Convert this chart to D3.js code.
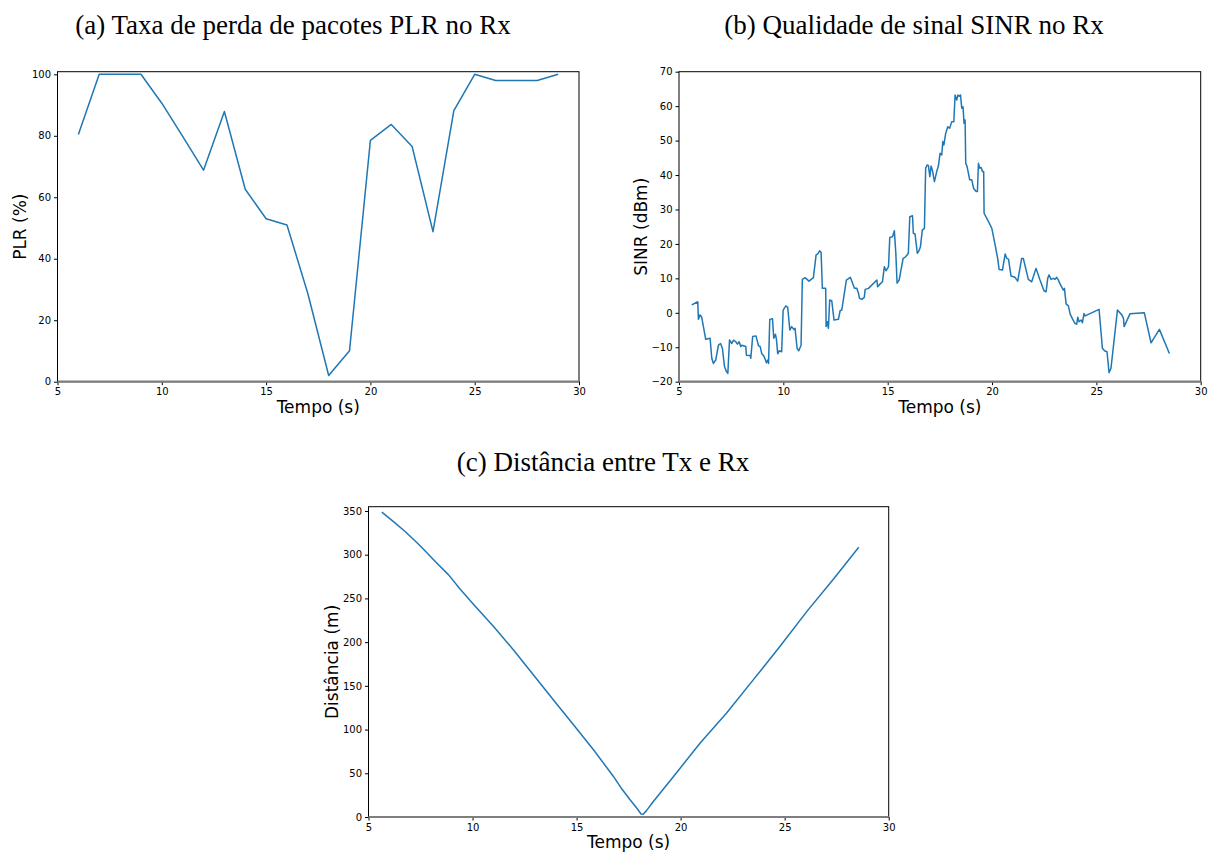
<!DOCTYPE html>
<html>
<head>
<meta charset="utf-8">
<script src="https://cdn.jsdelivr.net/npm/d3@7"></script>
<style>
  body { margin: 0; background: #fff; }
  svg { display: block; }
  .tick text { font-family: "DejaVu Sans", sans-serif; font-size: 10px; fill: #000; }
  .axlabel { font-family: "DejaVu Sans", sans-serif; font-size: 17px; fill: #000; }
  .title { font-family: "Liberation Serif", "DejaVu Serif", serif; font-size: 27px; fill: #000; }
</style>
</head>
<body>
<svg width="1215" height="853"></svg>
<script>
// (a) PLR per second
var plrTime = [6,7,8,9,10,11,12,13,14,15,16,17,18,19,20,21,22,23,24,25,26,27,28,29];
var plrValue = [80.4,100,100,100,90.6,79.8,68.8,87.9,62.6,53.0,51.0,28.7,2.0,10.1,78.5,83.7,76.5,48.8,88.2,100,98,98,98,100];

// (b) SINR trace
var sinrTime = [5.61,5.90,5.93,6.01,6.09,6.28,6.49,6.57,6.65,6.76,6.89,6.99,7.08,7.18,7.26,7.34,7.42,7.53,7.62,7.72,
  7.80,7.88,7.96,8.01,8.20,8.23,8.41,8.44,8.53,8.69,8.81,8.89,8.97,9.06,9.13,9.19,9.25,9.29,9.35,9.48,
  9.54,9.62,9.67,9.73,9.81,9.92,9.99,10.12,10.21,10.31,10.40,10.50,10.56,10.66,10.74,10.85,10.91,11.04,11.23,11.44,
  11.57,11.65,11.74,11.81,11.87,12.03,12.05,12.11,12.16,12.22,12.32,12.43,12.64,12.72,12.80,13.02,13.21,13.41,13.52,13.60,
  13.65,13.76,13.88,13.92,14.08,14.48,14.52,14.64,14.75,14.84,14.92,15.04,15.10,15.23,15.32,15.39,15.45,15.55,15.74,15.83,
  15.93,15.99,16.06,16.19,16.23,16.31,16.42,16.50,16.57,16.66,16.76,16.82,16.89,16.95,17.02,17.08,17.14,17.24,17.35,17.43,
  17.51,17.59,17.64,17.69,17.78,17.88,17.97,18.07,18.17,18.23,18.31,18.36,18.44,18.49,18.55,18.61,18.66,18.71,18.74,18.80,
  18.87,18.93,19.03,19.12,19.24,19.30,19.35,19.41,19.48,19.54,19.60,19.62,19.83,19.99,20.07,20.18,20.27,20.34,20.50,20.63,
  20.71,20.79,20.91,21.10,21.23,21.42,21.50,21.74,21.90,22.11,22.30,22.49,22.59,22.67,22.73,22.83,22.94,23.02,23.10,23.18,
  23.26,23.42,23.47,23.55,23.66,23.74,23.90,23.98,24.06,24.11,24.17,24.27,24.33,24.41,24.46,25.13,25.29,25.39,25.51,25.61,
  25.70,26.01,26.22,26.30,26.33,26.61,27.30,27.62,28.02,28.50];
var sinrValue = [2.3,3.2,-1.9,-0.6,-1.3,-7.7,-7.4,-13.2,-14.7,-13.7,-9.4,-8.9,-10.3,-15.6,-16.9,-17.6,-7.9,-8.9,-7.9,-8.4,
  -9.1,-8.4,-9.8,-9.4,-9.8,-12.3,-12.4,-13.2,-6.9,-6.7,-9.6,-9.8,-11.9,-12.5,-13.5,-14.5,-13.7,-14.7,-1.9,-1.7,
  -7.4,-6.2,-7.7,-11.9,-11.0,-11.3,0.8,2.0,1.6,-5.0,-4.0,-4.8,-4.5,-10.3,-11.0,-9.4,9.7,10.2,9.2,10.2,
  16.8,17.1,18.0,17.5,7.1,7.1,-4.0,-2.6,-4.5,3.7,3.5,-2.1,-1.9,0.6,0.8,9.5,10.3,7.1,7.1,5.7,
  4.2,3.9,4.5,6.8,7.1,9.5,7.6,8.4,9.0,13.4,12.2,13.4,21.9,22.1,23.8,17.3,8.6,9.5,15.8,16.1,
  16.8,17.3,27.9,28.2,23.1,22.9,17.3,18.0,19.2,24.0,24.5,42.0,42.9,42.8,39.5,42.6,41.5,38.1,41.0,42.6,
  46.3,45.8,49.7,48.7,52.1,54.0,53.6,55.5,55.5,63.2,61.8,63.2,62.9,63.2,59.4,59.8,55.0,56.0,43.4,42.6,
  40.5,38.6,38.6,36.1,35.2,35.2,43.4,42.0,42.2,41.0,41.0,28.9,26.5,24.5,22.1,18.7,15.8,12.6,12.4,17.1,
  15.8,15.6,10.7,10.3,9.2,15.8,15.8,9.7,9.0,12.9,9.5,6.4,6.1,10.0,11.0,9.7,10.0,9.7,10.3,9.5,
  8.4,6.6,7.1,2.6,2.0,-0.3,-2.3,-3.1,-3.3,-1.3,-2.6,-2.1,-2.9,-0.2,-0.9,1.0,-10.3,-11.0,-11.3,-17.4,
  -16.1,0.8,-0.6,-1.6,-4.0,-0.3,0.0,-8.7,-4.8,-11.8];

// (c) distance Tx-Rx
var distTime = [5.64,6.20,6.76,7.32,7.55,8.29,8.85,9.41,10.00,11.01,11.97,12.93,13.89,14.86,15.82,16.78,17.13,17.58,17.90,18.10,
  18.20,18.35,18.68,19.65,20.93,22.20,23.49,24.77,26.06,27.34,28.56];
var distValue = [348.6,337.9,326.5,313.9,308.5,290.2,276.9,260.5,244.5,217.8,191.1,162.5,133.9,105.3,76.7,46.1,33.5,19.5,10.0,3.5,
  3.2,7.0,17.5,46.1,84.3,118.6,156.8,194.9,234.9,271.9,308.5];

var titleA = "(a) Taxa de perda de pacotes PLR no Rx";
var titleB = "(b) Qualidade de sinal SINR no Rx";
var titleC = "(c) Distância entre Tx e Rx";
var xTicks = [5,10,15,20,25,30];

var svg = d3.select("svg");

function drawPanel(p) {
    var x = d3.scaleLinear().domain([5, 30]).range([p.left, p.right]);
    var y = d3.scaleLinear().domain(p.yDomain).range([p.bottom, p.top]);
    var g = svg.append("g");

    g.append("rect")
        .attr("x", p.left).attr("y", p.top)
        .attr("width", p.right - p.left).attr("height", p.bottom - p.top)
        .attr("fill", "none").attr("stroke", "#000").attr("stroke-width", 1);

    var line = d3.line()
        .x(function(d, i) { return x(p.xs[i]); })
        .y(function(d) { return y(d); });

    g.append("path")
        .datum(p.ys)
        .attr("d", line)
        .attr("fill", "none")
        .attr("stroke", "#1f77b4")
        .attr("stroke-width", 1.5)
        .attr("stroke-linejoin", "round");

    var xAxis = g.append("g")
        .attr("transform", "translate(0," + p.bottom + ")")
        .call(d3.axisBottom(x).tickValues(xTicks).tickSize(3.5).tickPadding(3).tickFormat(d3.format("d")));
    xAxis.select(".domain").remove();

    var yAxis = g.append("g")
        .attr("transform", "translate(" + p.left + ",0)")
        .call(d3.axisLeft(y).tickValues(p.yTicks).tickSize(3.5).tickPadding(3).tickFormat(d3.format("d")));
    yAxis.select(".domain").remove();

    // grey bottom spine
    g.append("line")
        .attr("x1", p.left).attr("x2", p.right)
        .attr("y1", p.bottom).attr("y2", p.bottom)
        .attr("stroke", "#7f7f7f").attr("stroke-width", 2.2);

    g.append("text").attr("class", "axlabel")
        .attr("x", (p.left + p.right) / 2).attr("y", p.bottom + 31)
        .attr("text-anchor", "middle").text("Tempo (s)");

    g.append("text").attr("class", "axlabel")
        .attr("transform", "translate(" + p.yLabelX + "," + (p.top + p.bottom) / 2 + ") rotate(-90)")
        .attr("text-anchor", "middle").text(p.yLabel);

    svg.append("text").attr("class", "title")
        .attr("x", p.titleX).attr("y", p.titleY)
        .attr("text-anchor", "middle").text(p.title);
}

drawPanel({
    left: 57.5, right: 579, top: 71.7, bottom: 381.7,
    yDomain: [0, 100.85], yTicks: [0,20,40,60,80,100],
    xs: plrTime, ys: plrValue, yLabel: "PLR (%)", yLabelX: 26,
    title: titleA, titleX: 293, titleY: 34
});

drawPanel({
    left: 679, right: 1200.7, top: 71.7, bottom: 381.7,
    yDomain: [-20, 70], yTicks: [-20,-10,0,10,20,30,40,50,60,70],
    xs: sinrTime, ys: sinrValue, yLabel: "SINR (dBm)", yLabelX: 647,
    title: titleB, titleX: 914, titleY: 34
});

drawPanel({
    left: 368.5, right: 888.7, top: 506.7, bottom: 817,
    yDomain: [0, 354.9], yTicks: [0,50,100,150,200,250,300,350],
    xs: distTime, ys: distValue, yLabel: "Distância (m)", yLabelX: 338,
    title: titleC, titleX: 603, titleY: 471
});
</script>
</body>
</html>
